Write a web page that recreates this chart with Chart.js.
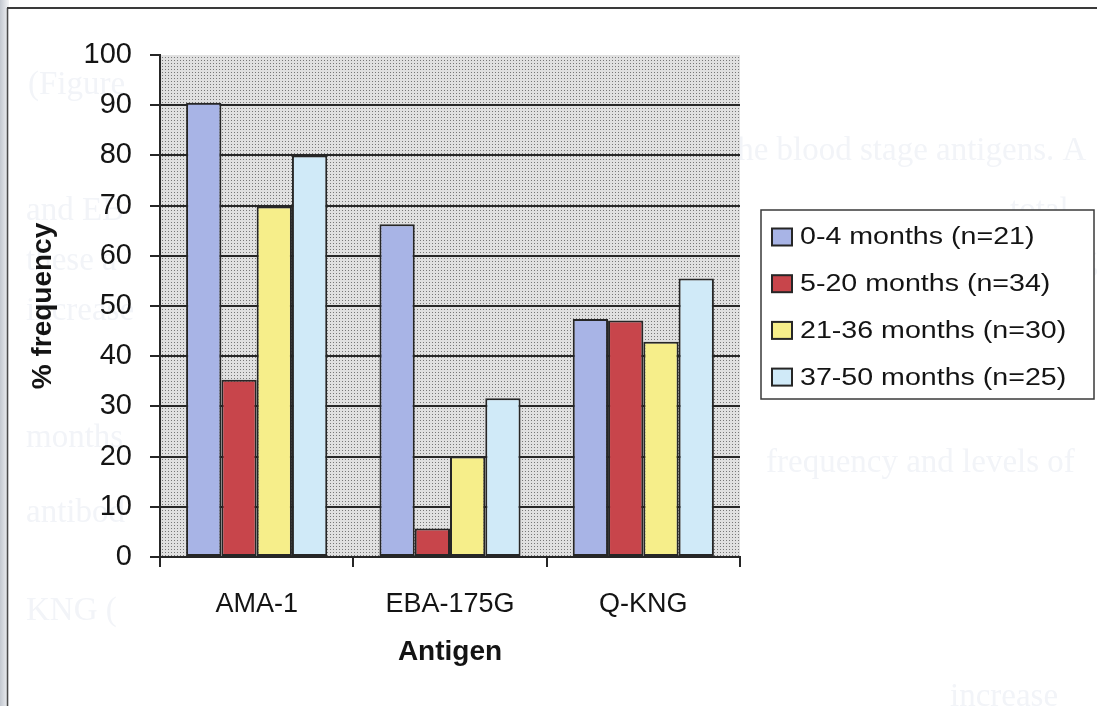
<!DOCTYPE html>
<html>
<head>
<meta charset="utf-8">
<script src="https://cdn.jsdelivr.net/npm/chart.js@4.4.1/dist/chart.umd.min.js"></script>
<style>
  html, body { margin: 0; padding: 0; background: #fff; }
  #wrap { width: 1097px; height: 706px; }
</style>
</head>
<body>
<div id="wrap"><canvas id="chart" width="1097" height="706"></canvas></div>
<script>
/* Antibody frequency by age group — grouped bars, scanned-figure look. */
const antigens = ['AMA-1', 'EBA-175G', 'Q-KNG'];
const groupLabels = ['0-4 months (n=21)', '5-20 months (n=34)', '21-36 months (n=30)', '37-50 months (n=25)'];
const months0to4 = [90.5, 66.3, 47.4];
const months5to20 = [35.3, 5.7, 47.1];
const months21to36 = [69.8, 20.0, 42.9];
const months37to50 = [80.0, 31.6, 55.5];
const groupColors = ['#a8b4e6', '#c8454b', '#f6ee8a', '#d0eaf8'];

// faint bleed-through text from the scanned page behind the figure
const ghostLines = [
  { text: '(Figure', x: 28, y: 94 },
  { text: 'the blood stage antigens. A', x: 728, y: 160 },
  { text: 'and EB', x: 26, y: 220 },
  { text: 'total', x: 1010, y: 220 },
  { text: 'these a', x: 26, y: 270 },
  { text: 'in the 0-4 month age g', x: 800, y: 270 },
  { text: 'increase', x: 26, y: 320 },
  { text: 'months', x: 26, y: 447 },
  { text: 'frequency and levels of', x: 766, y: 472 },
  { text: 'antibod', x: 26, y: 522 },
  { text: 'KNG (', x: 26, y: 620 },
  { text: 'increase', x: 950, y: 706 },
];

const TEXT = '#141414';
const LINE = '#262626';
const SANS = '"Liberation Sans", Arial, sans-serif';

function dotPattern(ctx) {
  const c = document.createElement('canvas');
  c.width = 3; c.height = 3;
  const g = c.getContext('2d');
  g.fillStyle = '#e0e0e0'; g.fillRect(0, 0, 3, 3);
  g.fillStyle = '#777'; g.fillRect(0, 0, 1, 1);
  return ctx.createPattern(c, 'repeat');
}

const pageBackdrop = {
  id: 'pageBackdrop',
  beforeDraw(chart) {
    const { ctx, chartArea: a, width, height } = chart;
    ctx.save();
    ctx.fillStyle = '#fff';
    ctx.fillRect(0, 0, width, height);
    const grad = ctx.createLinearGradient(0, 0, 9, 0);
    grad.addColorStop(0, '#c3c8d0');
    grad.addColorStop(1, '#f3f4f6');
    ctx.fillStyle = grad;
    ctx.fillRect(0, 0, 9, height);

    ctx.font = '33px "Liberation Serif", "Times New Roman", serif';
    ctx.fillStyle = '#f2f4f8';
    ghostLines.forEach((l) => ctx.fillText(l.text, l.x, l.y));

    ctx.strokeStyle = '#4a4a4a';
    ctx.lineWidth = 1.5;
    ctx.beginPath();
    ctx.moveTo(7.5, 8); ctx.lineTo(7.5, height);
    ctx.stroke();
    ctx.strokeStyle = '#3a3a3a';
    ctx.lineWidth = 2;
    ctx.beginPath();
    ctx.moveTo(7, 8); ctx.lineTo(width, 8);
    ctx.stroke();

    ctx.fillStyle = dotPattern(ctx);
    ctx.fillRect(a.left, a.top, a.right - a.left, a.bottom - a.top);
    ctx.restore();
  },
};

const legendBox = {
  id: 'legendBox',
  afterDraw(chart) {
    const { ctx, chartArea: a } = chart;
    const x = a.right + 21, y = a.top + 155, w = 333, h = 189;
    ctx.save();
    ctx.fillStyle = '#fff';
    ctx.fillRect(x, y, w, h);
    ctx.strokeStyle = '#3a3a3a';
    ctx.lineWidth = 1.5;
    ctx.strokeRect(x, y, w, h);
    chart.data.datasets.forEach((ds, i) => {
      const cy = y + 27 + i * 46.7;
      ctx.fillStyle = ds.backgroundColor;
      ctx.fillRect(x + 11, cy - 8.5, 20, 17);
      ctx.strokeStyle = LINE;
      ctx.lineWidth = 2;
      ctx.strokeRect(x + 11, cy - 8.5, 20, 17);
      ctx.save();
      ctx.translate(x + 39, cy);
      ctx.scale(1.3, 1.05);
      ctx.font = '22px ' + SANS;
      ctx.fillStyle = TEXT;
      ctx.textBaseline = 'middle';
      ctx.fillText(ds.label, 0, 1);
      ctx.restore();
    });
    ctx.restore();
  },
};

const datasets = [months0to4, months5to20, months21to36, months37to50].map((values, i) => ({
  label: groupLabels[i],
  data: values,
  backgroundColor: groupColors[i],
  borderColor: LINE,
  borderWidth: 2,
  borderSkipped: false,
  categoryPercentage: 0.73,
  barPercentage: 1.0,
}));

new Chart(document.getElementById('chart'), {
  type: 'bar',
  data: { labels: antigens, datasets },
  plugins: [pageBackdrop, legendBox],
  options: {
    responsive: false,
    animation: false,
    layout: { padding: { top: 55, right: 357, left: 0, bottom: 0 } },
    plugins: { legend: { display: false }, tooltip: { enabled: false } },
    scales: {
      x: {
        afterFit: (s) => { s.height = 149; },
        grid: { drawOnChartArea: false, drawTicks: true, tickLength: 10, tickColor: LINE, lineWidth: 2, offset: true },
        border: { display: true, color: LINE, width: 2 },
        ticks: { color: TEXT, font: { family: SANS, size: 27 }, padding: 21 },
        title: { display: true, text: 'Antigen', color: TEXT, font: { family: SANS, size: 28, weight: 'bold' }, padding: { bottom: 37 } },
      },
      y: {
        min: 0,
        max: 100,
        afterFit: (s) => { s.width = 160; },
        grid: {
          color: (c) => (c.tick && (c.tick.value === 0 || c.tick.value === 100) ? 'rgba(0,0,0,0)' : LINE),
          tickColor: LINE,
          lineWidth: 2,
          tickLength: 10,
        },
        border: { display: true, color: LINE, width: 2 },
        ticks: { stepSize: 10, color: TEXT, font: { family: SANS, size: 29 }, padding: 18 },
        title: { display: true, text: '% frequency', color: TEXT, font: { family: SANS, size: 28, weight: 'bold' }, padding: { top: 26 } },
      },
    },
  },
});
</script>
</body>
</html>
